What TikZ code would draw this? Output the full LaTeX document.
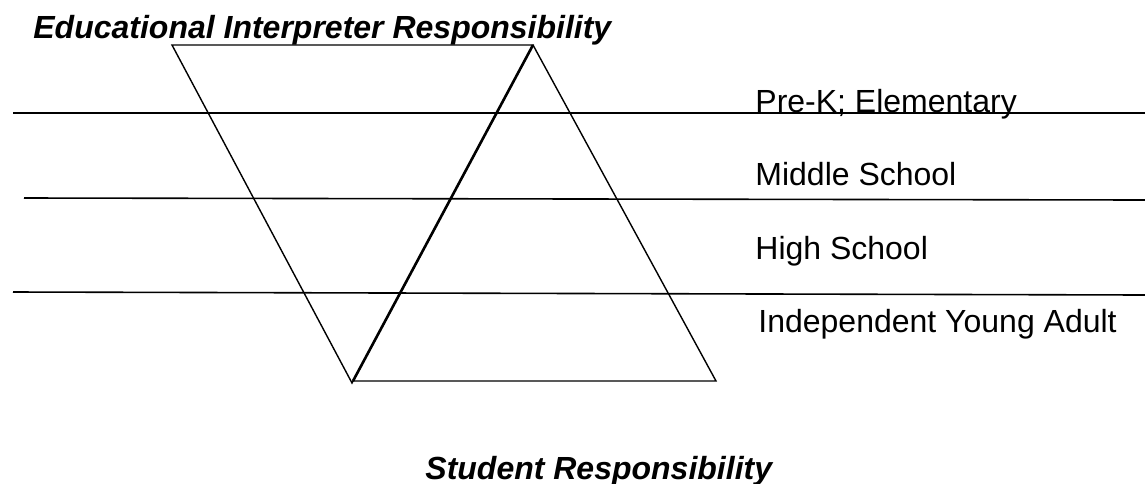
\documentclass[tikz,border=0pt]{standalone}
\usepackage{fontspec}
\setmainfont{Liberation Sans}
\usepackage{tikz}

\begin{document}
\begin{tikzpicture}[x=0.5pt,y=-0.5pt,
  level/.style={font=\fontsize{16}{19}\selectfont,anchor=base west,inner sep=0pt},
  heading/.style={font=\fontsize{16}{19}\selectfont\bfseries\itshape,anchor=base west,inner sep=0pt},
  band/.style={line width=0.8pt},
  tri/.style={line width=0.7pt,line join=miter}]
  \useasboundingbox (0,0) rectangle (1145,483);
  % headings
  \node[heading] (top) at (33,38) {Educational Interpreter Responsibility};
  \node[heading] (bottom) at (425,479) {Student Responsibility};
  % vertices
  \coordinate (itl) at (172,45);
  \coordinate (itr) at (533,45);
  \coordinate (ib) at (352,383);
  \coordinate (ut) at (533,45);
  \coordinate (ubl) at (353,381);
  \coordinate (ubr) at (716,381);
  % band ends
  \coordinate (a1) at (13,113);
  \coordinate (a2) at (1145,113);
  \coordinate (b1) at (24,198);
  \coordinate (b2) at (1145,200);
  \coordinate (c1) at (13,292);
  \coordinate (c2) at (1145,295);
  \path[band]
    (a1) edge (a2)
    (b1) edge (b2)
    (c1) edge (c2);
  \draw[tri] (itl) -- (itr) -- (ib) -- cycle;
  \draw[tri] (ubl) -- (ubr) -- (ut);
  \draw[line width=1.3pt] (ut) -- (ubl);
  % levels
  \node[level] (prek) at (755,112) {Pre-K; Elementary};
  \node[level] (middle) at (755,185) {Middle School};
  \node[level] (high) at (755,259) {High School};
  \node[level] (adult) at (758,332) {Independent Young Adult};
\end{tikzpicture}
\end{document}
